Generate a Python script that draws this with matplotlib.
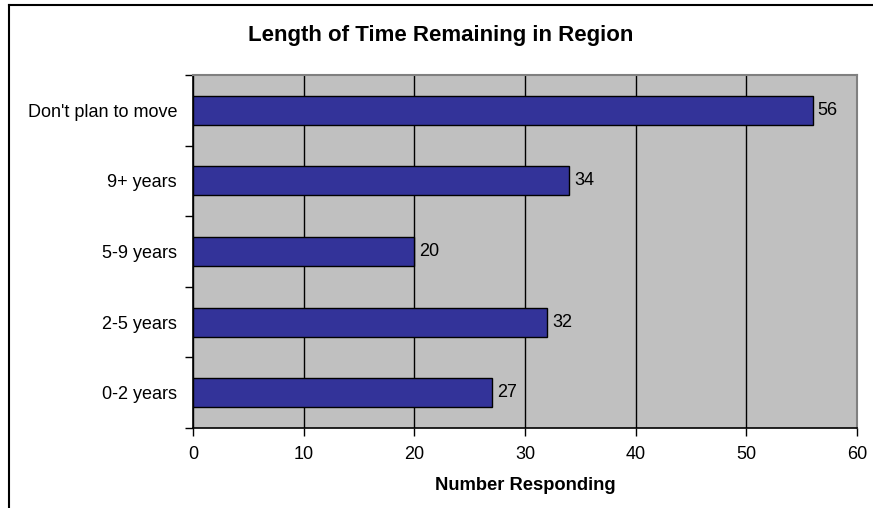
import matplotlib
matplotlib.use("Agg")
import matplotlib.pyplot as plt
from matplotlib.lines import Line2D

categories = ["0-2 years", "2-5 years", "5-9 years", "9+ years", "Don't plan to move"]
responses = [27, 32, 20, 34, 56]
x_ticks = [0, 10, 20, 30, 40, 50, 60]

plt.rcParams["font.family"] = ["Liberation Sans", "DejaVu Sans"]

fig = plt.figure(figsize=(8.73, 5.08), dpi=100)
ax = fig.add_axes([193 / 873, 1 - 428 / 508, (857 - 193) / 873, (428 - 75) / 508])

ax.set_facecolor("#C0C0C0")
ypos = list(range(len(categories)))
ax.barh(ypos, responses, height=0.41, color="#333399",
        edgecolor="black", linewidth=1.0, zorder=3)

for y, v in zip(ypos, responses):
    ax.annotate(str(v), (v, y), xytext=(3.5, 0), textcoords="offset points",
                va="center", ha="left", fontsize=13, color="black")

ax.set_xlim(0, 60)
ax.set_ylim(-0.5, len(categories) - 0.5)
ax.set_xticks(x_ticks)
ax.set_xticklabels([str(t) for t in x_ticks], fontsize=13)
ax.xaxis.grid(True, color="black", linewidth=1.0, zorder=1)
ax.set_axisbelow(True)

# category labels centred, tick marks at the category boundaries
ax.set_yticks(ypos)
ax.set_yticklabels(categories, fontsize=13)
ax.tick_params(axis="y", which="major", length=0, pad=11.5)
ax.set_yticks([i - 0.5 for i in range(len(categories) + 1)], minor=True)
ax.tick_params(axis="y", which="minor", length=6, width=1, direction="out", color="black")
ax.tick_params(axis="x", length=6, width=1, direction="out", pad=7, color="black")

for side in ("top", "right"):
    ax.spines[side].set_color("#808080")
    ax.spines[side].set_linewidth(1.5)
for side in ("left", "bottom"):
    ax.spines[side].set_color("black")
    ax.spines[side].set_linewidth(1.2)

ax.set_xlabel("Number Responding", fontsize=13.2, fontweight="bold", labelpad=10)
fig.text(441 / 873, 1 - 35 / 508, "Length of Time Remaining in Region",
         ha="center", va="center", fontsize=16, fontweight="bold")

# outer chart frame (left and top edges)
fig.add_artist(Line2D([9 / 873, 9 / 873], [0, 1 - 5 / 508], transform=fig.transFigure,
                      color="black", linewidth=1.5))
fig.add_artist(Line2D([9 / 873, 1], [1 - 5 / 508, 1 - 5 / 508], transform=fig.transFigure,
                      color="black", linewidth=1.5))

fig.savefig("out.png", dpi=100, facecolor="white")
